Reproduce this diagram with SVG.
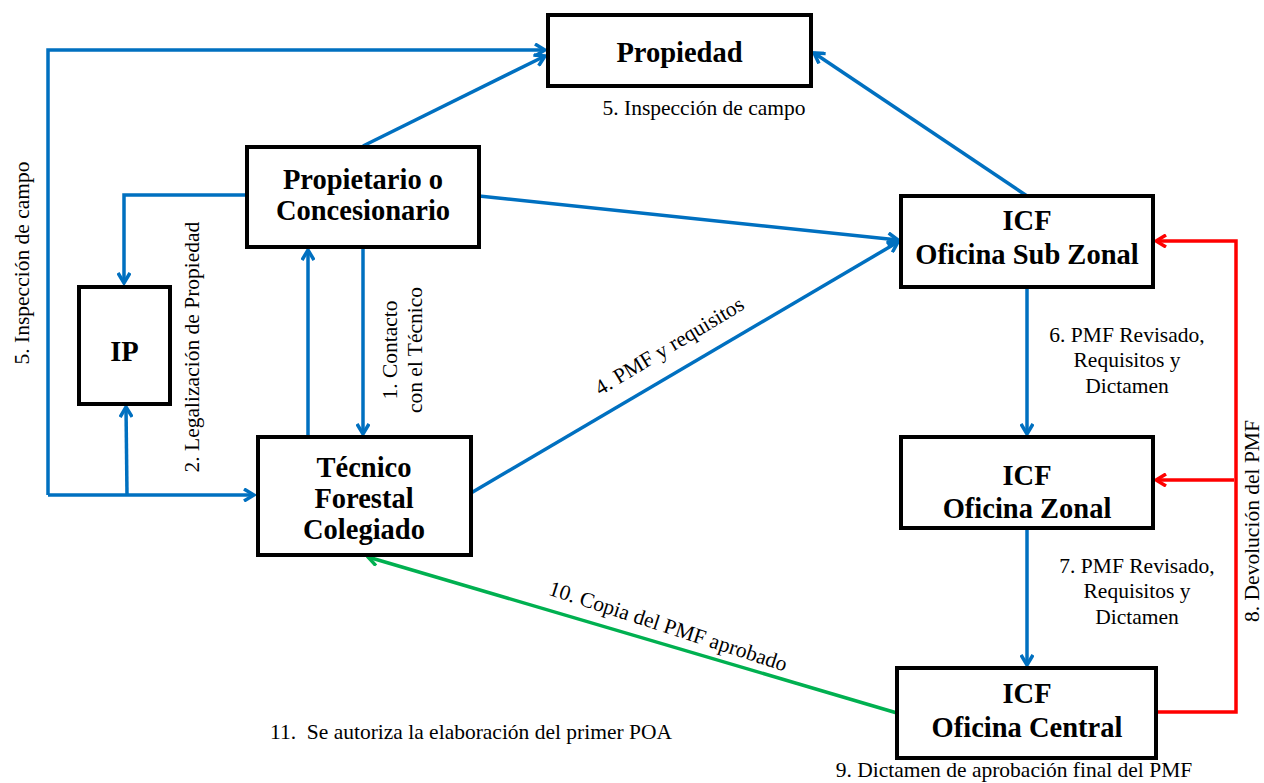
<svg xmlns="http://www.w3.org/2000/svg" width="1264" height="783" viewBox="0 0 1264 783">
<style>
.box{fill:#fff;stroke:#000;stroke-width:4}
.nt{font-family:'Liberation Serif','Times New Roman','DejaVu Serif',serif;font-weight:bold;font-size:28.5px;text-anchor:middle;fill:#000}
.lb{font-family:'Liberation Serif','Times New Roman','DejaVu Serif',serif;font-size:21.5px;fill:#000}
.c{text-anchor:middle}
.b{fill:none;stroke:#0070C0;stroke-width:3.5}
.r{fill:none;stroke:#FF0000;stroke-width:3.5}
.g{fill:none;stroke:#00B050;stroke-width:3.5}
</style>
<defs>
<marker id="ab" viewBox="0 0 14 14" refX="12" refY="7" markerWidth="14" markerHeight="14" orient="auto" markerUnits="userSpaceOnUse"><path d="M2,1 L12,7 L2,13" fill="none" stroke="#0070C0" stroke-width="3.5"/></marker>
<marker id="ar" viewBox="0 0 14 14" refX="12" refY="7" markerWidth="14" markerHeight="14" orient="auto" markerUnits="userSpaceOnUse"><path d="M2,1 L12,7 L2,13" fill="none" stroke="#FF0000" stroke-width="3.5"/></marker>
<marker id="ag" viewBox="0 0 14 14" refX="12" refY="7" markerWidth="14" markerHeight="14" orient="auto" markerUnits="userSpaceOnUse"><path d="M2,1 L12,7 L2,13" fill="none" stroke="#00B050" stroke-width="3.5"/></marker>
</defs>
<g id="connectors">
<polyline class="b" points="48,495 48,50 545,50" marker-end="url(#ab)"/>
<polyline class="b" points="48,495 254,495" marker-end="url(#ab)"/>
<line class="b" x1="127" y1="495" x2="126" y2="407" marker-end="url(#ab)"/>
<line class="b" x1="363" y1="146" x2="545" y2="56" marker-end="url(#ab)"/>
<polyline class="b" points="246,195 124,195 124,283" marker-end="url(#ab)"/>
<line class="b" x1="479" y1="196" x2="898" y2="240" marker-end="url(#ab)"/>
<line class="b" x1="308" y1="437" x2="308" y2="250" marker-end="url(#ab)"/>
<line class="b" x1="363" y1="247" x2="363" y2="434" marker-end="url(#ab)"/>
<line class="b" x1="471" y1="493" x2="898" y2="242" marker-end="url(#ab)"/>
<line class="b" x1="1027" y1="196" x2="814" y2="53" marker-end="url(#ab)"/>
<line class="b" x1="1027" y1="287" x2="1027" y2="434" marker-end="url(#ab)"/>
<line class="b" x1="1027" y1="528" x2="1027" y2="665" marker-end="url(#ab)"/>
<polyline class="r" points="1156,712 1236,712 1236,241 1156,241" marker-end="url(#ar)"/>
<line class="r" x1="1234" y1="480" x2="1156" y2="480" marker-end="url(#ar)"/>
<line class="g" x1="897" y1="713" x2="368" y2="557" marker-end="url(#ag)"/>
</g>
<g id="propiedad"><rect class="box" x="548" y="15" width="263" height="71"/><text class="nt" x="679.5" y="62" font-size="31.5">Propiedad</text></g>
<g id="propietario"><rect class="box" x="247" y="147" width="232" height="100"/><text class="nt" x="363" y="189">Propietario o</text><text class="nt" x="363" y="220">Concesionario</text></g>
<g id="ip"><rect class="box" x="79" y="287" width="91" height="117"/><text class="nt" x="124.5" y="361">IP</text></g>
<g id="tecnico"><rect class="box" x="258" y="437" width="213" height="118"/><text class="nt" x="364" y="477">Técnico</text><text class="nt" x="364" y="508">Forestal</text><text class="nt" x="364" y="539">Colegiado</text></g>
<g id="subzonal"><rect class="box" x="901" y="196" width="252" height="91"/><text class="nt" x="1027" y="230">ICF</text><text class="nt" x="1027" y="264">Oficina Sub Zonal</text></g>
<g id="zonal"><rect class="box" x="901" y="437" width="252" height="91"/><text class="nt" x="1027" y="485">ICF</text><text class="nt" x="1027" y="518">Oficina Zonal</text></g>
<g id="central"><rect class="box" x="897" y="668" width="259" height="90"/><text class="nt" x="1027" y="703">ICF</text><text class="nt" x="1027" y="737">Oficina Central</text></g>
<g id="labels">
<text class="lb c" x="704" y="115">5. Inspección de campo</text>
<text class="lb c" transform="translate(29,263) rotate(-90)">5. Inspección de campo</text>
<text class="lb c" transform="translate(199,347) rotate(-90)">2. Legalización de Propiedad</text>
<text class="lb c" transform="translate(397,350) rotate(-90)">1. Contacto</text>
<text class="lb c" transform="translate(422,350) rotate(-90)">con el Técnico</text>
<text class="lb c" transform="translate(673,352) rotate(-31)">4. PMF y requisitos</text>
<text class="lb c" x="1127" y="342">6. PMF Revisado,</text>
<text class="lb c" x="1127" y="367">Requisitos y</text>
<text class="lb c" x="1127" y="393">Dictamen</text>
<text class="lb c" x="1137" y="573">7. PMF Revisado,</text>
<text class="lb c" x="1137" y="598">Requisitos y</text>
<text class="lb c" x="1137" y="624">Dictamen</text>
<text class="lb c" transform="translate(1259,521) rotate(-90)" font-size="20.5">8. Devolución del PMF</text>
<text class="lb c" transform="translate(666,633) rotate(18)">10. Copia del PMF aprobado</text>
<text class="lb" x="270" y="739" xml:space="preserve" textLength="402" lengthAdjust="spacingAndGlyphs">11.  Se autoriza la elaboración del primer POA</text>
<text class="lb c" x="1014" y="777">9. Dictamen de aprobación final del PMF</text>
</g>
</svg>
